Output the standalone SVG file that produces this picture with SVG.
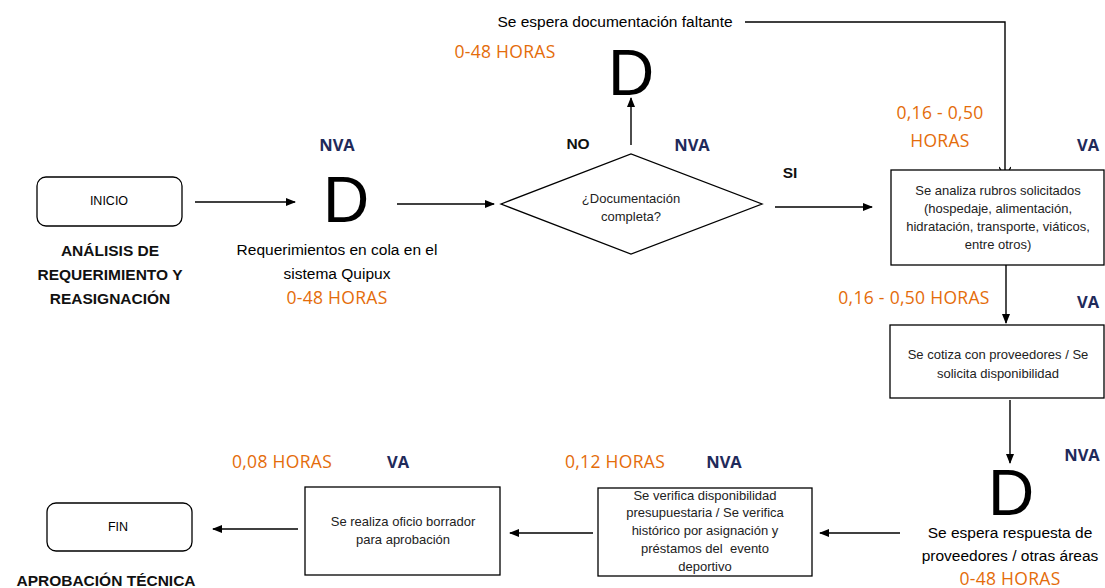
<svg xmlns="http://www.w3.org/2000/svg" width="1105" height="588" viewBox="0 0 1105 588">
<style>
.box{fill:#fff;stroke:#000;stroke-width:1.3}
.ln{fill:none;stroke:#000;stroke-width:1.4}
.t{font-family:"Liberation Sans",Arial,sans-serif;font-size:12.5px;fill:#000;text-anchor:middle}
.tb{font-family:"Liberation Sans",Arial,sans-serif;font-size:13px;fill:#222;text-anchor:middle}
.lbl{font-family:"Liberation Sans",Arial,sans-serif;font-weight:bold;font-size:15.5px;fill:#111;text-anchor:middle}
.or{font-family:"Open Sans","Liberation Sans",sans-serif;font-size:17.5px;letter-spacing:0.3px;fill:#E46C0A;text-anchor:middle}
.nv{font-family:"Open Sans","Liberation Sans",sans-serif;font-weight:bold;font-size:16.5px;fill:#1F2A5A;text-anchor:middle}
.d{font-family:"Liberation Sans",Arial,sans-serif;font-size:64px;fill:#000;text-anchor:middle}
.cap{font-family:"Liberation Sans",Arial,sans-serif;font-size:15.5px;fill:#000;text-anchor:middle}
</style>
<defs>
<marker id="ah" markerWidth="10" markerHeight="10" refX="9" refY="5" orient="auto" markerUnits="userSpaceOnUse">
<path d="M0,1 L10,5 L0,9 Z" fill="#000"/>
</marker>
<marker id="ov" markerWidth="12" markerHeight="12" refX="6" refY="11" orient="0" markerUnits="userSpaceOnUse">
<path d="M0,1 L6,11 L12,1" fill="none" stroke="#000" stroke-width="1.4"/>
</marker>
</defs>
<rect width="1105" height="588" fill="#fff"/>

<g id="connectors">
<line class="ln" x1="195" y1="202" x2="295" y2="202" marker-end="url(#ah)"/>
<line class="ln" x1="397" y1="204" x2="494" y2="204" marker-end="url(#ah)"/>
<line class="ln" x1="631" y1="145" x2="631" y2="98" marker-end="url(#ah)"/>
<polyline class="ln" points="745,22 1005,22 1005,177" marker-end="url(#ov)"/>
<line class="ln" x1="775" y1="207" x2="872" y2="207" marker-end="url(#ah)"/>
<line class="ln" x1="1006" y1="265" x2="1006" y2="323" marker-end="url(#ah)"/>
<line class="ln" x1="1010" y1="400" x2="1010" y2="463" marker-end="url(#ah)"/>
<line class="ln" x1="900" y1="533" x2="820" y2="533" marker-end="url(#ah)"/>
<line class="ln" x1="593" y1="533" x2="510" y2="533" marker-end="url(#ah)"/>
<line class="ln" x1="298" y1="529" x2="213" y2="529" marker-end="url(#ah)"/>
</g>

<g id="inicio">
<rect class="box" x="37" y="177" width="145" height="49" rx="9"/>
<text class="t" x="109" y="205">INICIO</text>
<text class="lbl" x="110" y="256">ANÁLISIS DE</text>
<text class="lbl" x="110" y="280">REQUERIMIENTO Y</text>
<text class="lbl" x="110" y="304">REASIGNACIÓN</text>
</g>

<g id="d1">
<text class="nv" x="337" y="151">NVA</text>
<text class="d" x="346" y="222">D</text>
<text class="cap" x="337" y="255">Requerimientos en cola en el</text>
<text class="cap" x="337" y="279">sistema Quipux</text>
<text class="or" x="337" y="304">0-48 HORAS</text>
</g>

<g id="decision">
<polygon class="box" points="501,204 631,154 762,204 631,254"/>
<text class="tb" x="631" y="203">¿Documentación</text>
<text class="tb" x="631" y="221">completa?</text>
<text class="lbl" x="578" y="149">NO</text>
<text class="nv" x="692" y="151">NVA</text>
<text class="lbl" x="790" y="178">SI</text>
</g>

<g id="d2">
<text class="cap" x="615" y="27">Se espera documentación faltante</text>
<text class="or" x="505" y="58">0-48 HORAS</text>
<text class="d" x="631" y="95">D</text>
</g>

<g id="analiza">
<rect class="box" x="891" y="170" width="213" height="95"/>
<text class="tb" x="998" y="195">Se analiza rubros solicitados</text>
<text class="tb" x="998" y="213">(hospedaje, alimentación,</text>
<text class="tb" x="998" y="231">hidratación, transporte, viáticos,</text>
<text class="tb" x="998" y="249">entre otros)</text>
<text class="or" x="940" y="119">0,16 - 0,50</text>
<text class="or" x="940" y="147">HORAS</text>
<text class="nv" x="1088" y="151">VA</text>
</g>

<g id="cotiza">
<text class="or" x="914" y="304">0,16 - 0,50 HORAS</text>
<text class="nv" x="1088" y="308">VA</text>
<rect class="box" x="890" y="325" width="214" height="73"/>
<text class="tb" x="998" y="359">Se cotiza con proveedores / Se</text>
<text class="tb" x="998" y="378">solicita disponibilidad</text>
</g>

<g id="d3">
<text class="nv" x="1082" y="461">NVA</text>
<text class="d" x="1011" y="515">D</text>
<text class="cap" x="1010" y="538">Se espera respuesta de</text>
<text class="cap" x="1010" y="561">proveedores / otras áreas</text>
<text class="or" x="1010" y="585">0-48 HORAS</text>
</g>

<g id="verifica">
<text class="or" x="615" y="468">0,12 HORAS</text>
<text class="nv" x="724" y="468">NVA</text>
<rect class="box" x="598" y="488" width="214" height="88"/>
<text class="tb" x="705" y="500">Se verifica disponibilidad</text>
<text class="tb" x="705" y="517">presupuestaria / Se verifica</text>
<text class="tb" x="705" y="535">histórico por asignación y</text>
<text class="tb" x="705" y="553" xml:space="preserve">préstamos del  evento</text>
<text class="tb" x="705" y="571">deportivo</text>
</g>

<g id="oficio">
<text class="or" x="282" y="468">0,08 HORAS</text>
<text class="nv" x="398" y="468">VA</text>
<rect class="box" x="305" y="487" width="195" height="88"/>
<text class="tb" x="403" y="526">Se realiza oficio borrador</text>
<text class="tb" x="403" y="544">para aprobación</text>
</g>

<g id="fin">
<rect class="box" x="47" y="503" width="145" height="48" rx="9"/>
<text class="t" x="118" y="531">FIN</text>
<text class="lbl" x="106" y="586">APROBACIÓN TÉCNICA</text>
</g>
</svg>
